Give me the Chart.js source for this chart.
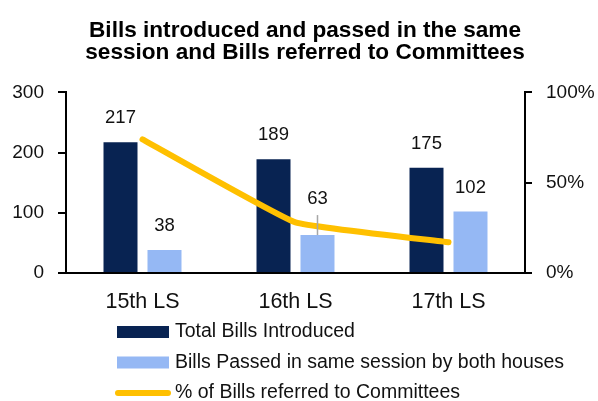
<!DOCTYPE html>
<html lang="en">
<head>
    <meta charset="UTF-8">
    <title>Bills introduced and passed</title>
    <script src="https://cdn.jsdelivr.net/npm/chart.js"></script>
    <style>
        html, body { margin: 0; padding: 0; background: #fff; }
        #wrap { width: 598px; height: 401px; }
    </style>
</head>
<body>
    <div id="wrap"><canvas id="myChart" width="598" height="401"></canvas></div>

    <script>
        // chart data
        const categories = ['15th LS', '16th LS', '17th LS'];
        const totalIntroduced = [217, 189, 175];
        const passedSameSession = [38, 63, 102];
        const referredPct = [74, 28, 17];

        const seriesNames = [
            'Total Bills Introduced',
            'Bills Passed in same session by both houses',
            '% of Bills referred to Committees'
        ];

        const FONT = '"Liberation Sans", Arial, sans-serif';

        // value labels above the bars
        const barLabels = {
            id: 'barLabels',
            afterDatasetsDraw(chart) {
                const ctx = chart.ctx;
                ctx.save();
                ctx.font = '18.5px ' + FONT;
                ctx.fillStyle = '#111';
                ctx.textAlign = 'center';
                ctx.textBaseline = 'middle';
                chart.data.datasets.forEach((ds, di) => {
                    if (ds.type !== 'bar') return;
                    chart.getDatasetMeta(di).data.forEach((bar, i) => {
                        let lift = 24;
                        // this one sits above the line, with a leader line down to the bar
                        if (di === 1 && i === 1) {
                            lift = 36;
                            ctx.strokeStyle = '#a6a6a6';
                            ctx.lineWidth = 1.5;
                            ctx.beginPath();
                            ctx.moveTo(bar.x, bar.y - 20);
                            ctx.lineTo(bar.x, bar.y);
                            ctx.stroke();
                        }
                        ctx.fillText(ds.data[i], bar.x, bar.y - lift);
                    });
                });
                ctx.restore();
            }
        };

        // legend stacked below the axis, left aligned
        const stackedLegend = {
            id: 'stackedLegend',
            afterDraw(chart) {
                const ctx = chart.ctx;
                ctx.save();
                ctx.font = '19.5px ' + FONT;
                ctx.textBaseline = 'middle';
                ctx.textAlign = 'left';
                chart.data.datasets.forEach((ds, di) => {
                    const y = 332 + di * 30.5;
                    if (ds.type === 'bar') {
                        ctx.fillStyle = ds.backgroundColor;
                        ctx.fillRect(117, y - 6, 52, 12);
                    } else {
                        ctx.strokeStyle = ds.borderColor;
                        ctx.lineWidth = 6;
                        ctx.lineCap = 'round';
                        ctx.beginPath();
                        ctx.moveTo(118, y);
                        ctx.lineTo(168, y);
                        ctx.stroke();
                    }
                    ctx.fillStyle = '#111';
                    ctx.fillText(ds.label, 175, y);
                });
                ctx.restore();
            }
        };

        const ctx = document.getElementById('myChart').getContext('2d');
        const myChart = new Chart(ctx, {
            data: {
                labels: categories,
                datasets: [
                    {
                        type: 'bar',
                        label: seriesNames[0],
                        data: totalIntroduced,
                        backgroundColor: '#082352',
                        yAxisID: 'y',
                        categoryPercentage: 0.575,
                        barPercentage: 0.773,
                        order: 1
                    },
                    {
                        type: 'bar',
                        label: seriesNames[1],
                        data: passedSameSession,
                        backgroundColor: '#95B8F4',
                        yAxisID: 'y',
                        categoryPercentage: 0.575,
                        barPercentage: 0.773,
                        order: 1
                    },
                    {
                        type: 'line',
                        label: seriesNames[2],
                        data: referredPct,
                        borderColor: '#FFC000',
                        backgroundColor: '#FFC000',
                        borderWidth: 6,
                        borderCapStyle: 'round',
                        borderJoinStyle: 'round',
                        pointRadius: 0,
                        tension: 0.1,
                        yAxisID: 'y1',
                        order: 0
                    }
                ]
            },
            options: {
                responsive: false,
                animation: false,
                layout: {
                    padding: { left: 12, right: 0, top: 0, bottom: 85 }
                },
                plugins: {
                    legend: { display: false },
                    tooltip: { enabled: false },
                    title: {
                        display: true,
                        text: ['Bills introduced and passed in the same', 'session and Bills referred to Committees'],
                        color: '#000',
                        font: { family: FONT, size: 22.6, weight: 'bold', lineHeight: 0.96 },
                        padding: { top: 20, bottom: 29 }
                    }
                },
                scales: {
                    x: {
                        grid: { display: false, drawTicks: false },
                        border: { display: true, color: '#000', width: 2 },
                        ticks: {
                            color: '#111',
                            padding: 16,
                            font: { family: FONT, size: 21.5 }
                        },
                        afterFit(scale) { scale.height = 43; }
                    },
                    y: {
                        position: 'left',
                        min: 0,
                        max: 300,
                        grid: {
                            drawOnChartArea: false,
                            drawTicks: true,
                            tickLength: 8,
                            color: '#000',
                            lineWidth: 2
                        },
                        border: { display: true, color: '#000', width: 2 },
                        ticks: {
                            stepSize: 100,
                            color: '#111',
                            padding: 14,
                            font: { family: FONT, size: 19 }
                        },
                        afterFit(scale) { scale.width = 54; }
                    },
                    y1: {
                        position: 'right',
                        min: 0,
                        max: 100,
                        grid: {
                            drawOnChartArea: false,
                            drawTicks: true,
                            tickLength: 7,
                            color: '#000',
                            lineWidth: 2
                        },
                        border: { display: true, color: '#000', width: 2 },
                        ticks: {
                            stepSize: 50,
                            color: '#111',
                            padding: 14,
                            font: { family: FONT, size: 19 },
                            callback: v => v + '%'
                        },
                        afterFit(scale) { scale.width = 73; }
                    }
                }
            },
            plugins: [barLabels, stackedLegend]
        });
    </script>
</body>
</html>
